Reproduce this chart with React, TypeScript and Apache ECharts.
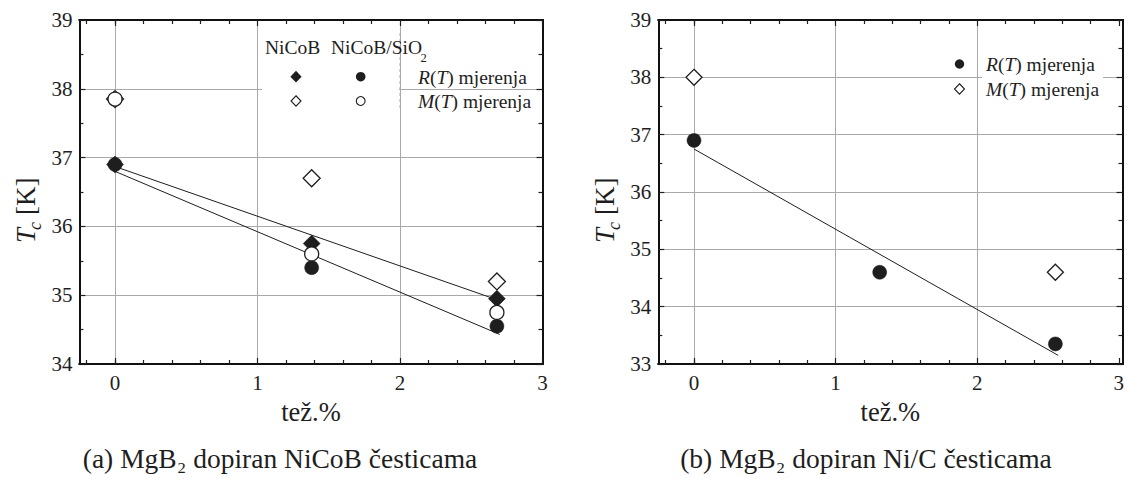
import React, { useEffect, useRef } from "react";
import * as echarts from "echarts";

// ---- data ----
const xNiCoB = [0, 1.38, 2.68];
const nicobR = [36.9, 35.75, 34.95];
const nicobM = [37.85, 36.7, 35.2];
const sio2R = [36.9, 35.4, 34.55];
const sio2M = [37.85, 35.6, 34.75];
const fitNiCoBX = [0, 2.7];
const fitNiCoBY = [36.87, 34.92];
const fitSiO2X = [0, 2.7];
const fitSiO2Y = [36.8, 34.43];

const xNiC_R = [0, 1.3, 2.53];
const nicR = [36.9, 34.6, 33.35];
const xNiC_M = [0, 2.53];
const nicM = [38.0, 34.6];
const fitNiCX = [0, 2.55];
const fitNiCY = [36.75, 33.15];

const xTicks = [0, 1, 2, 3];
const yTicksA = [34, 35, 36, 37, 38, 39];
const yTicksB = [33, 34, 35, 36, 37, 38, 39];
const dashX = [2, 2];
const dashY = [37.72, 38.86];

const xTitle = "tež.%";
const captionA = "(a) MgB₂ dopiran NiCoB česticama";
const captionB = "(b) MgB₂ dopiran Ni/C česticama";

const zip = (xs: number[], ys: number[]) => xs.map((x, i) => [x, ys[i]]);

const FONT = "Liberation Serif";
const INK = "#1e1e1e";
const GRIDC = "#a9a9a9";

export default function App() {
  const ref = useRef<HTMLDivElement>(null);

  useEffect(() => {
    if (!ref.current) return;
    const chart = echarts.init(ref.current, null, { renderer: "svg" });

    const top = 20;
    const height = 344;
    const xMin = -0.25;
    const xMax = xTicks[xTicks.length - 1];
    const span = xMax - xMin;

    const panels = [
      { left: 79.4, width: 463.1, yMin: yTicksA[0], yMax: yTicksA[yTicksA.length - 1] },
      { left: 658.3, width: 464.2, yMin: yTicksB[0], yMax: yTicksB[yTicksB.length - 1] },
    ];

    const grids: any[] = [];
    const xAxes: any[] = [];
    const yAxes: any[] = [];

    const frameLine = { show: true, onZero: false, lineStyle: { color: "#111", width: 2, cap: "square" } };
    const tickStyle = { color: INK, width: 1.2 };
    const hiddenLine = { show: false, onZero: false };
    const serif21 = { fontFamily: FONT, fontStyle: "normal", fontWeight: "normal", fontSize: 21, color: INK, fill: INK };
    const labelFont = {
      ...serif21,
      formatter: "{s|{value}}",
      rich: { s: { ...serif21 } },
    };
    const serifName = { fontFamily: FONT, fontStyle: "normal", fontWeight: "normal", fontSize: 26.5, color: INK, fill: INK, lineHeight: 26 };

    panels.forEach((p) => {
      const unit = p.width / span;
      const gA = grids.length;
      grids.push({ left: p.left, top, width: p.width, height, containLabel: false });
      const gC = grids.length;
      grids.push({ left: p.left + (0 - xMin) * unit, top, width: (xMax - 0) * unit, height });
      const gB = grids.length;
      grids.push({ left: p.left + (-0.2 - xMin) * unit, top, width: 0.2 * unit, height });

      // frame axes (data axes)
      xAxes.push({
        gridIndex: gA, type: "value", min: xMin, max: xMax, position: "bottom",
        axisLine: frameLine, axisTick: { show: false }, axisLabel: { show: false }, splitLine: { show: false },
        name: `{s|${xTitle}}`, nameLocation: "middle", nameGap: 35,
        nameTextStyle: { ...serifName, rich: { s: { ...serifName } } },
      });
      xAxes.push({
        gridIndex: gA, type: "value", min: xMin, max: xMax, position: "top",
        axisLine: frameLine, axisTick: { show: false }, axisLabel: { show: false }, splitLine: { show: false },
      });
      // integer ticks, labels, gridlines
      xAxes.push({
        gridIndex: gC, type: "value", min: 0, max: xMax, interval: 1, position: "bottom",
        axisLine: hiddenLine,
        axisTick: { show: true, inside: true, length: 6, lineStyle: tickStyle },
        minorTick: { show: true, splitNumber: 5, length: 4, lineStyle: tickStyle },
        axisLabel: { show: true, margin: 8, ...labelFont },
        splitLine: { show: true, showMaxLine: false, lineStyle: { color: GRIDC, width: 1 } },
      });
      xAxes.push({
        gridIndex: gC, type: "value", min: 0, max: xMax, interval: 1, position: "top",
        axisLine: hiddenLine,
        axisTick: { show: true, inside: true, length: 6, lineStyle: tickStyle },
        minorTick: { show: true, splitNumber: 5, length: 4, lineStyle: tickStyle },
        axisLabel: { show: false }, splitLine: { show: false },
      });
      // the -0.2 minor tick
      ["bottom", "top"].forEach((pos) =>
        xAxes.push({
          gridIndex: gB, type: "value", min: -0.2, max: 0, interval: 0.2, position: pos,
          axisLine: hiddenLine,
          axisTick: { show: true, inside: true, length: 4, lineStyle: tickStyle },
          axisLabel: { show: false }, splitLine: { show: false },
        })
      );

      yAxes.push({
        gridIndex: gA, type: "value", min: p.yMin, max: p.yMax, interval: 1, position: "left",
        axisLine: frameLine,
        axisTick: { show: true, inside: true, length: 6, lineStyle: tickStyle },
        minorTick: { show: true, splitNumber: 2, length: 4, lineStyle: tickStyle },
        axisLabel: { show: true, margin: 7, ...labelFont },
        splitLine: { show: true, showMinLine: false, showMaxLine: false, lineStyle: { color: GRIDC, width: 1 } },
      });
      yAxes.push({
        gridIndex: gA, type: "value", min: p.yMin, max: p.yMax, interval: 1, position: "right",
        axisLine: frameLine,
        axisTick: { show: true, inside: true, length: 6, lineStyle: tickStyle },
        minorTick: { show: true, splitNumber: 2, length: 4, lineStyle: tickStyle },
        axisLabel: { show: false }, splitLine: { show: false },
      });
      yAxes.push({ gridIndex: gC, type: "value", min: 0, max: 1, show: false, axisLine: hiddenLine });
      yAxes.push({ gridIndex: gB, type: "value", min: 0, max: 1, show: false, axisLine: hiddenLine });
    });

    // axis indices: panel 0 -> x 0, y 0 ; panel 1 -> x 6, y 4
    const lineSeries = (data: number[][], xi: number, yi: number) => ({
      type: "line", xAxisIndex: xi, yAxisIndex: yi, data, symbol: "none", z: 3,
      lineStyle: { color: INK, width: 1 }, silent: true,
    });
    const scatter = (data: number[][], xi: number, yi: number, symbol: string, size: number, filled: boolean, z: number) => ({
      type: "scatter", xAxisIndex: xi, yAxisIndex: yi, data, symbol, symbolSize: size, z,
      itemStyle: filled
        ? { color: INK, borderColor: INK, borderWidth: 0.5, opacity: 1 }
        : { color: "#ffffff", borderColor: INK, borderWidth: 1.3, opacity: 1 },
    });

    const series: any[] = [
      {
        type: "line", xAxisIndex: 0, yAxisIndex: 0, data: zip(dashX, dashY), symbol: "none", z: 2,
        lineStyle: { color: GRIDC, width: 1, type: [3, 3] }, silent: true,
      },
      lineSeries(zip(fitNiCoBX, fitNiCoBY), 0, 0),
      lineSeries(zip(fitSiO2X, fitSiO2Y), 0, 0),
      scatter(zip(xNiCoB, nicobM), 0, 0, "diamond", 17, false, 4),
      scatter(zip(xNiCoB, sio2R), 0, 0, "circle", 14, true, 5),
      scatter(zip(xNiCoB, nicobR), 0, 0, "diamond", 17, true, 6),
      scatter(zip(xNiCoB, sio2M), 0, 0, "circle", 14, false, 7),

      lineSeries(zip(fitNiCX, fitNiCY), 6, 4),
      scatter(zip(xNiC_M, nicM), 6, 4, "diamond", 16, false, 4),
      scatter(zip(xNiC_R, nicR), 6, 4, "circle", 14, true, 5),
    ];

    const txt = (text: string, x: number, y: number, size: number, align = "left", extra: any = {}) => ({
      type: "text", x, y, z: 10,
      style: {
        text, fill: INK, fontFamily: FONT, fontSize: size, fontStyle: "normal", fontWeight: "normal",
        align, textAlign: align, verticalAlign: "middle", textVerticalAlign: "middle", ...extra,
      },
    });
    const richRow = (letter: string, x: number, y: number) => ({
      type: "text", x, y, z: 10,
      style: {
        text: `{i|${letter}}{n|(}{i|T}{n|) mjerenja}`,
        fill: INK, fontFamily: FONT, fontSize: 19.5, fontStyle: "normal", fontWeight: "normal",
        align: "left", textAlign: "left", verticalAlign: "middle", textVerticalAlign: "middle",
        rich: {
          i: { fontStyle: "italic", fontWeight: "normal", fontFamily: FONT, fontSize: 19.5, fill: INK, color: INK },
          n: { fontStyle: "normal", fontWeight: "normal", fontFamily: FONT, fontSize: 19.5, fill: INK, color: INK },
        },
      },
    });
    const diamond = (x: number, y: number, r: number, filled: boolean) => ({
      type: "polygon", x, y, z: 10,
      shape: { points: [[0, -r * 1.05], [r, 0], [0, r * 1.05], [-r, 0]] },
      style: filled ? { fill: INK } : { fill: "#fff", stroke: INK, lineWidth: 1.1 },
    });
    const dot = (x: number, y: number, r: number, filled: boolean) => ({
      type: "circle", x, y, z: 10, shape: { cx: 0, cy: 0, r },
      style: filled ? { fill: INK } : { fill: "#fff", stroke: INK, lineWidth: 1.1 },
    });
    const yLabel = (x: number) => ({
      type: "group", x, y: 243, rotation: Math.PI / 2, z: 10,
      children: [
        txt("T", 0, 0, 27, "left", { fontStyle: "italic" }),
        txt("c", 13, 9, 18, "left", { fontStyle: "italic" }),
        txt("[K]", 28, 0, 27, "left"),
      ],
    });

    const graphic: any[] = [
      // legend backgrounds
      { type: "rect", z: 1, shape: { x: 262, y: 32, width: 137, height: 81 }, style: { fill: "#fff" } },
      { type: "rect", z: 1, shape: { x: 982, y: 52, width: 121, height: 48 }, style: { fill: "#fff" } },
      // left legend
      txt("NiCoB", 265, 47.5, 19.5),
      txt("NiCoB/SiO", 331, 47.5, 19.5),
      txt("2", 420.5, 58, 12.5),
      diamond(296, 76.7, 5.6, true),
      dot(360.7, 76.7, 4.8, true),
      richRow("R", 418, 77),
      diamond(296, 101, 5, false),
      dot(360.7, 101, 4.4, false),
      richRow("M", 418, 101.5),
      // right legend
      dot(959.5, 64, 4.7, true),
      richRow("R", 986, 64),
      diamond(959.5, 89, 5, false),
      richRow("M", 986, 89),
      // y-axis titles
      yLabel(25.5),
      yLabel(605),
      // captions
      txt(captionA, 280, 458, 27.5, "center"),
      txt(captionB, 866, 458, 27.5, "center"),
    ];

    chart.setOption({
      animation: false,
      backgroundColor: "#ffffff",
      textStyle: { fontFamily: FONT, fontStyle: "normal", fontWeight: "normal" },
      grid: grids,
      xAxis: xAxes,
      yAxis: yAxes,
      series,
      graphic,
    });

    return () => chart.dispose();
  }, []);

  return (
    <div
      ref={ref}
      style={{ position: "fixed", left: 0, top: 0, width: 1127, height: 479, background: "#fff", fontFamily: FONT }}
    />
  );
}
